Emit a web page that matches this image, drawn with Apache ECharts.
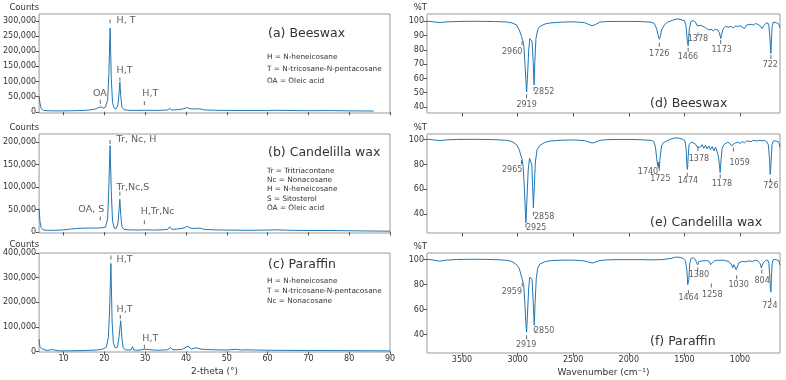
<!DOCTYPE html>
<html><head><meta charset="utf-8">
<script src="https://cdn.jsdelivr.net/npm/echarts@6/dist/echarts.min.js"></script>
<style>html,body{margin:0;padding:0;background:#fff}#c{width:786px;height:380px}</style>
</head><body><div id="c"></div>
<script>
// ---------- DATA ----------
// XRD: [2-theta (deg), counts]
const beeswaxXRD = [[4,52000],[4.2,30000],[4.5,12000],[5,5000],[6,3500],[8,3000],[10,3000],[12,3500],[14,4000],[16,5500],[17,7000],[18,10000],[18.7,15000],[19.0,20000],[19.3,16000],[19.8,12000],[20.3,16000],[20.8,40000],[21.1,120000],[21.4,276000],[21.7,110000],[22.0,30000],[22.4,12000],[22.9,10000],[23.3,20000],[23.6,60000],[23.8,98000],[24.0,55000],[24.3,15000],[24.8,7000],[26,5000],[28,4500],[29.5,5000],[29.8,8000],[30.1,5000],[32,4500],[34,5000],[35.5,6000],[36,11000],[36.5,6000],[38,7000],[39.5,10000],[40.3,14000],[41,10000],[42,9000],[43,10000],[43.8,9000],[44.5,6000],[47,5000],[50,4500],[55,4000],[60,4000],[62,5000],[64,4500],[70,3500],[75,4000],[80,3000],[86,2500]];
const candelillaXRD = [[4,52000],[4.2,25000],[4.5,10000],[5,5000],[6,4000],[8,4000],[10,5000],[12,7000],[14,8500],[16,9000],[18,9000],[19.5,9500],[20.3,11000],[20.8,30000],[21.1,100000],[21.4,192000],[21.7,90000],[22.0,25000],[22.4,9000],[22.9,8000],[23.3,18000],[23.6,50000],[23.8,73000],[24.0,40000],[24.3,12000],[24.8,6000],[26,5000],[28,4500],[29.5,5000],[29.8,7000],[30.1,5000],[32,4500],[34,5000],[35.5,6000],[36,12000],[36.5,6000],[38,7000],[39.5,9000],[40.3,13000],[41,9000],[42,8000],[43,9000],[43.8,8000],[44.5,6000],[47,5000],[50,4500],[55,4000],[60,4500],[62,5000],[66,4000],[70,3500],[75,3500],[80,3000],[84,2500],[90,2000]];
const paraffinXRD = [[4,50000],[4.2,20000],[4.4,12000],[4.6,26000],[4.8,10000],[5.2,6000],[6,4000],[7,8000],[7.3,3500],[9,2500],[12,3000],[15,4000],[18,6000],[19.5,9000],[20.5,18000],[21.0,60000],[21.3,180000],[21.6,358000],[21.9,120000],[22.2,35000],[22.7,15000],[23.2,18000],[23.6,60000],[24.0,125000],[24.3,55000],[24.6,15000],[25.2,7000],[26.5,6000],[26.9,20000],[27.2,6000],[28.5,5000],[29.8,9000],[30.2,5000],[33,5000],[35.5,7000],[36.2,16000],[36.8,7000],[39,8000],[40.5,22000],[41.3,10000],[42.5,15000],[43.5,10000],[45,8000],[47,7000],[50,6000],[52.3,9000],[53.5,6000],[55,7000],[57,6000],[60,5000],[65,4500],[70,4000],[75,4000],[80,3500],[85,3000],[90,2500]];

// FTIR: [wavenumber (cm-1), %T]
const beeswaxFTIR = [[3815,100.2],[3750,99.6],[3700,99.2],[3650,99.6],[3600,99.8],[3500,100],[3400,100.1],[3300,100],[3200,99.9],[3100,99.6],[3050,99],[3010,97.5],[2985,94],[2965,89.5],[2958,89],[2945,84],[2935,72],[2925,58],[2919,50.5],[2912,60],[2900,80],[2890,88],[2880,89],[2870,86],[2860,72],[2852,55.5],[2845,72],[2835,88],[2820,94],[2800,96.5],[2750,98.3],[2700,99],[2600,99.5],[2500,99.7],[2400,99.2],[2360,97.8],[2330,97],[2300,97.8],[2260,99.5],[2200,99.9],[2100,100],[2000,100],[1900,99.9],[1800,99.5],[1770,98.5],[1750,95],[1735,90],[1726,87.5],[1718,89],[1705,94],[1690,96],[1680,97.5],[1650,99.5],[1600,101],[1560,101.8],[1530,101.2],[1500,100.5],[1485,97],[1473,86],[1466,83],[1462,87],[1455,95],[1440,100],[1420,100.5],[1400,99.5],[1385,97],[1378,95.8],[1370,97],[1350,97.2],[1320,96],[1300,95],[1280,94],[1260,94.5],[1240,93.5],[1220,94.5],[1200,94],[1185,92],[1173,88],[1165,91],[1150,95],[1130,96.5],[1100,96],[1080,96.5],[1060,95.5],[1040,96.8],[1020,96.5],[1000,97],[980,96],[960,95],[940,97.5],[900,98],[880,97.5],[860,98.5],[840,98],[820,97],[800,95],[790,96.5],[770,98.5],[750,99],[740,97],[730,88],[722,77.5],[718,85],[710,97],[700,99.5],[690,100.5],[670,99],[660,100.3],[650,98],[640,95.5]];
const candelillaFTIR = [[3815,100.5],[3750,99.8],[3700,99.3],[3650,99.8],[3550,100.2],[3400,100.3],[3300,100.2],[3200,100],[3100,99.5],[3050,98.5],[3010,96],[2985,92],[2970,87],[2962,85],[2950,78],[2940,62],[2930,42],[2925,33],[2918,48],[2905,75],[2893,85],[2882,86],[2872,80],[2865,62],[2858,45],[2850,62],[2840,82],[2825,92],[2800,95.5],[2750,98],[2700,99],[2600,99.6],[2500,99.8],[2400,99.3],[2360,98.2],[2330,97.3],[2300,98],[2260,99.5],[2200,100],[2100,100.2],[2000,100.2],[1900,100],[1800,99.5],[1775,98.5],[1760,94],[1748,84],[1740,79],[1733,82],[1725,78],[1718,86],[1705,95],[1690,97.5],[1660,99],[1620,100.5],[1580,101.5],[1550,101.3],[1520,100.5],[1495,99],[1485,93],[1476,78],[1472,76],[1466,86],[1458,96],[1440,98],[1420,97.5],[1400,96.5],[1385,94],[1378,92.5],[1370,95],[1355,94],[1340,96],[1325,93],[1310,95.5],[1295,92.5],[1280,95],[1265,92],[1250,94.5],[1235,91],[1220,94],[1205,90],[1195,87],[1185,80],[1178,73.5],[1170,84],[1160,93],[1145,96],[1130,95.5],[1110,98],[1090,97],[1075,95],[1065,93.5],[1059,94.5],[1050,97],[1035,96.5],[1020,98],[1000,97],[980,98.5],[960,97.5],[940,99],[900,98.5],[880,99.5],[850,99],[820,99.5],[800,99],[780,99.5],[760,98.5],[745,96],[735,85],[728,72],[726,70.5],[720,82],[712,96],[700,99],[690,100],[675,99],[662,100.3],[650,98],[640,94]];
const paraffinFTIR = [[3815,100.3],[3750,99.5],[3700,98.8],[3650,99.5],[3550,100.1],[3400,100.3],[3300,100.2],[3200,100],[3100,99.5],[3050,98.5],[3010,96],[2985,93],[2970,88],[2962,89],[2955,87],[2945,80],[2935,65],[2925,48],[2919,42],[2912,55],[2900,78],[2890,86],[2880,87],[2870,84],[2860,66],[2850,47.5],[2843,65],[2832,85],[2820,93],[2800,96.5],[2750,98.5],[2700,99.2],[2600,99.6],[2500,99.6],[2400,99],[2360,98],[2330,97.3],[2300,98],[2260,99.3],[2200,99.8],[2100,100],[2000,100],[1900,100],[1800,99.8],[1700,100],[1620,101],[1580,102],[1540,101.8],[1510,101],[1490,99],[1478,92],[1470,80],[1464,78.5],[1460,84],[1452,97],[1440,101],[1420,101.5],[1400,100],[1390,97.5],[1380,95.8],[1370,98.5],[1340,99],[1300,99.2],[1275,98.5],[1265,96],[1258,95.5],[1250,97.5],[1230,99],[1200,99.5],[1150,99.5],[1100,98.5],[1080,96.5],[1065,93.5],[1055,96],[1045,95],[1035,92],[1030,90.5],[1025,94],[1010,97.5],[980,98.5],[950,98.3],[920,99],[890,98.5],[875,97],[860,99.5],[840,99],[820,97],[808,93.5],[800,94],[790,97.5],[770,99.3],[750,99.6],[740,97],[732,87],[726,76],[722,74],[718,84],[710,97],[700,100],[690,101],[675,100],[662,101.5],[650,99],[640,95.5]];

// Peak annotations: [tickX, tickY, text, labelX, labelY, anchor]
const beeswaxXRDPeaks = [[21.4,298000,'H, T',23.0,300000,'left'],[23.8,107000,'H,T',23.0,137000,'left'],[19.0,33000,'OA',18.9,60000,'center'],[29.8,28000,'H,T',29.3,60000,'left']];
const candelillaXRDPeaks = [[21.4,200000,'Tr, Nc, H',23.0,205000,'left'],[23.8,85000,'Tr,Nc,S',23.0,100000,'left'],[19.0,30000,'OA, S',16.8,51000,'center'],[29.8,22000,'H,Tr,Nc',28.9,46000,'left']];
const paraffinXRDPeaks = [[21.6,382000,'H,T',23.0,372000,'left'],[23.9,140000,'H,T',23.0,170000,'left'],[29.8,19000,'H,T',29.3,53000,'left']];
const beeswaxFTIRPeaks = [[2960,84.7,'2960',3049,78.6,'center'],[2919,47.5,'2919',2919,41.6,'center'],[2852,52.7,'2852',2761,50.3,'center'],[1726,83.7,'1726',1726,77.2,'center'],[1466,80.2,'1466',1468,74.8,'center'],[1378,90.8,'1378',1378,87.7,'center'],[1173,85.6,'1173',1165,79.7,'center'],[722,75,'722',727,69.7,'center']];
const candelillaFTIRPeaks = [[2965,81.7,'2965',3049,75.8,'center'],[2925,30.6,'2925',2833,29.2,'center'],[2858,40.3,'2858',2761,37.9,'center'],[1735,78.5,'1740',1827,73.9,'center'],[1725,76.5,'1725',1716,68.3,'center'],[1474,71.8,'1474',1468,67,'center'],[1378,92.5,'1378',1369,84.4,'center'],[1178,70.4,'1178',1162,64.5,'center'],[1059,92,'1059',1003,81.2,'center'],[726,67,'726',722,62.9,'center']];
const paraffinFTIRPeaks = [[2959,80,'2959',3052,74.1,'center'],[2919,38,'2919',2923,32,'center'],[2850,44.2,'2850',2761,42.6,'center'],[1464,74,'1464',1462,69.3,'center'],[1380,92.2,'1380',1369,87.4,'center'],[1258,79.4,'1258',1249,72,'center'],[1030,86,'1030',1012,79.4,'center'],[804,90.6,'804',801,82.9,'center'],[724,68,'724',731,62.6,'center']];

const panelTitles = ['(a) Beeswax','(b) Candelilla wax','(c) Paraffin','(d) Beeswax','(e) Candelilla wax','(f) Paraffin'];
const beeswaxKey = ['H = N-heneicosane','T = N-tricosane-N-pentacosane','OA = Oleic acid'];
const candelillaKey = ['Tr = Tritriacontane','Nc = Nonacosane','H = N-heneicosane','S = Sitosterol','OA = Oleic acid'];
const paraffinKey = ['H = N-heneicosane','T = N-tricosane-N-pentacosane','Nc = Nonacosane'];

const xrdTicks = [10,20,30,40,50,60,70,80,90];
const ftirTicks = [1000,1500,2000,2500,3000,3500];
const yTicksA = [0,50000,100000,150000,200000,250000,300000];
const yTicksB = [0,50000,100000,150000,200000];
const yTicksC = [0,100000,200000,300000,400000];
const yTicksD = [40,50,60,70,80,90,100];
const yTicksEF = [40,60,80,100];

// ---------- CHART ----------
const FONT = 'DejaVu Sans';
const TXT = '#333';
const LINE = '#1f77b4';
const grids = [
  {left:38, top:14, width:352, height:99},
  {left:38, top:134, width:352, height:99},
  {left:38, top:253, width:352, height:99},
  {left:427, top:14, width:353, height:99},
  {left:427, top:134, width:353, height:99},
  {left:427, top:253, width:353, height:100}
].map(g => Object.assign({show:true, borderColor:'#9a9a9a', borderWidth:1, backgroundColor:'transparent'}, g));

const fmtThousands = v => Math.round(v).toString().replace(/\B(?=(\d{3})+(?!\d))/g, ',');
const fmtPlain = v => String(Math.round(v));

function xAxis(i, isXRD, showLabels) {
  const ticks = isXRD ? xrdTicks : ftirTicks;
  return {
    type:'value', gridIndex:i,
    min: isXRD ? 4 : 640, max: isXRD ? 90 : 3815,
    inverse: !isXRD,
    axisLine:{show:false}, splitLine:{show:false},
    axisTick:{show:true, length:3.5, customValues:ticks, lineStyle:{color:'#555'}},
    axisLabel:{show:showLabels, customValues:ticks, color:TXT, fontFamily:FONT, fontSize:8, margin:3, formatter:fmtPlain},
    name: showLabels ? (isXRD ? '2-theta (°)' : 'Wavenumber (cm⁻¹)') : '',
    nameLocation:'middle', nameGap:15,
    nameTextStyle:{color:TXT, fontFamily:FONT, fontSize:9}
  };
}
function yAxis(i, min, max, ticks, isXRD) {
  return {
    type:'value', gridIndex:i, min, max,
    axisLine:{show:false}, splitLine:{show:false},
    axisTick:{show:true, length:3.5, customValues:ticks, lineStyle:{color:'#555'}},
    axisLabel:{customValues:ticks, color:TXT, fontFamily:FONT, fontSize:8, margin:3,
      formatter: isXRD ? fmtThousands : fmtPlain},
    name: isXRD ? 'Counts' : '%T', nameLocation:'end', nameGap:2,
    nameTextStyle:{color:TXT, fontFamily:FONT, fontSize:8.5, align:'right', verticalAlign:'bottom'}
  };
}

const xAxes = [xAxis(0,true,false), xAxis(1,true,false), xAxis(2,true,true), xAxis(3,false,false), xAxis(4,false,false), xAxis(5,false,true)];
const yAxes = [
  yAxis(0,-4000,322700,yTicksA,true),
  yAxis(1,-2000,218000,yTicksB,true),
  yAxis(2,-2000,400500,yTicksC,true),
  yAxis(3,35.8,105.2,yTicksD,false),
  yAxis(4,24.7,104.6,yTicksEF,false),
  yAxis(5,25.3,105.3,yTicksEF,false)
];

const spectra = [beeswaxXRD, candelillaXRD, paraffinXRD, beeswaxFTIR, candelillaFTIR, paraffinFTIR];
const peaks = [beeswaxXRDPeaks, candelillaXRDPeaks, paraffinXRDPeaks, beeswaxFTIRPeaks, candelillaFTIRPeaks, paraffinFTIRPeaks];

const series = [];
spectra.forEach((d, i) => {
  series.push({type:'line', xAxisIndex:i, yAxisIndex:i, data:d, showSymbol:false, symbol:'none',
    lineStyle:{color:LINE, width:1}, clip:true, animation:false, silent:true, z:2});
});
peaks.forEach((p, i) => {
  const isXRD = i < 3;
  series.push({type:'scatter', xAxisIndex:i, yAxisIndex:i, symbol:'rect', symbolSize:[1,4],
    itemStyle:{color:'#444'}, data:p.map(r => [r[0], r[1]]), animation:false, silent:true, z:3});
  series.push({type:'scatter', xAxisIndex:i, yAxisIndex:i, symbolSize:0, animation:false, silent:true, z:4,
    data:p.map(r => ({value:[r[3], r[4]], label:{show:true, position:'inside', formatter:r[2], align:r[5],
      verticalAlign:'middle', color:TXT, fontFamily:FONT, fontSize: isXRD ? 9.5 : 8}}))});
});

const graphic = [];
const titlePos = [[268,34],[268,153],[268,265],[650,103.5],[650,223],[650,341.5]];
panelTitles.forEach((t, i) => {
  graphic.push({type:'text', style:{text:t, x:titlePos[i][0], y:titlePos[i][1], font:'12.5px "'+FONT+'"', fill:TXT, textAlign:'left', textVerticalAlign:'middle'}});
});
function addKey(lines, x, y0, step) {
  lines.forEach((t, k) => graphic.push({type:'text', style:{text:t, x:x, y:y0 + k*step, font:'7.3px "'+FONT+'"', fill:TXT, textAlign:'left', textVerticalAlign:'middle'}}));
}
addKey(beeswaxKey, 267, 57.3, 11.8);
addKey(candelillaKey, 267, 170.7, 9.4);
addKey(paraffinKey, 267, 280.7, 10);

const chart = echarts.init(document.getElementById('c'), null, {renderer:'canvas'});
chart.setOption({animation:false, backgroundColor:'#fff', grid:grids, xAxis:xAxes, yAxis:yAxes, series, graphic});
</script></body></html>
